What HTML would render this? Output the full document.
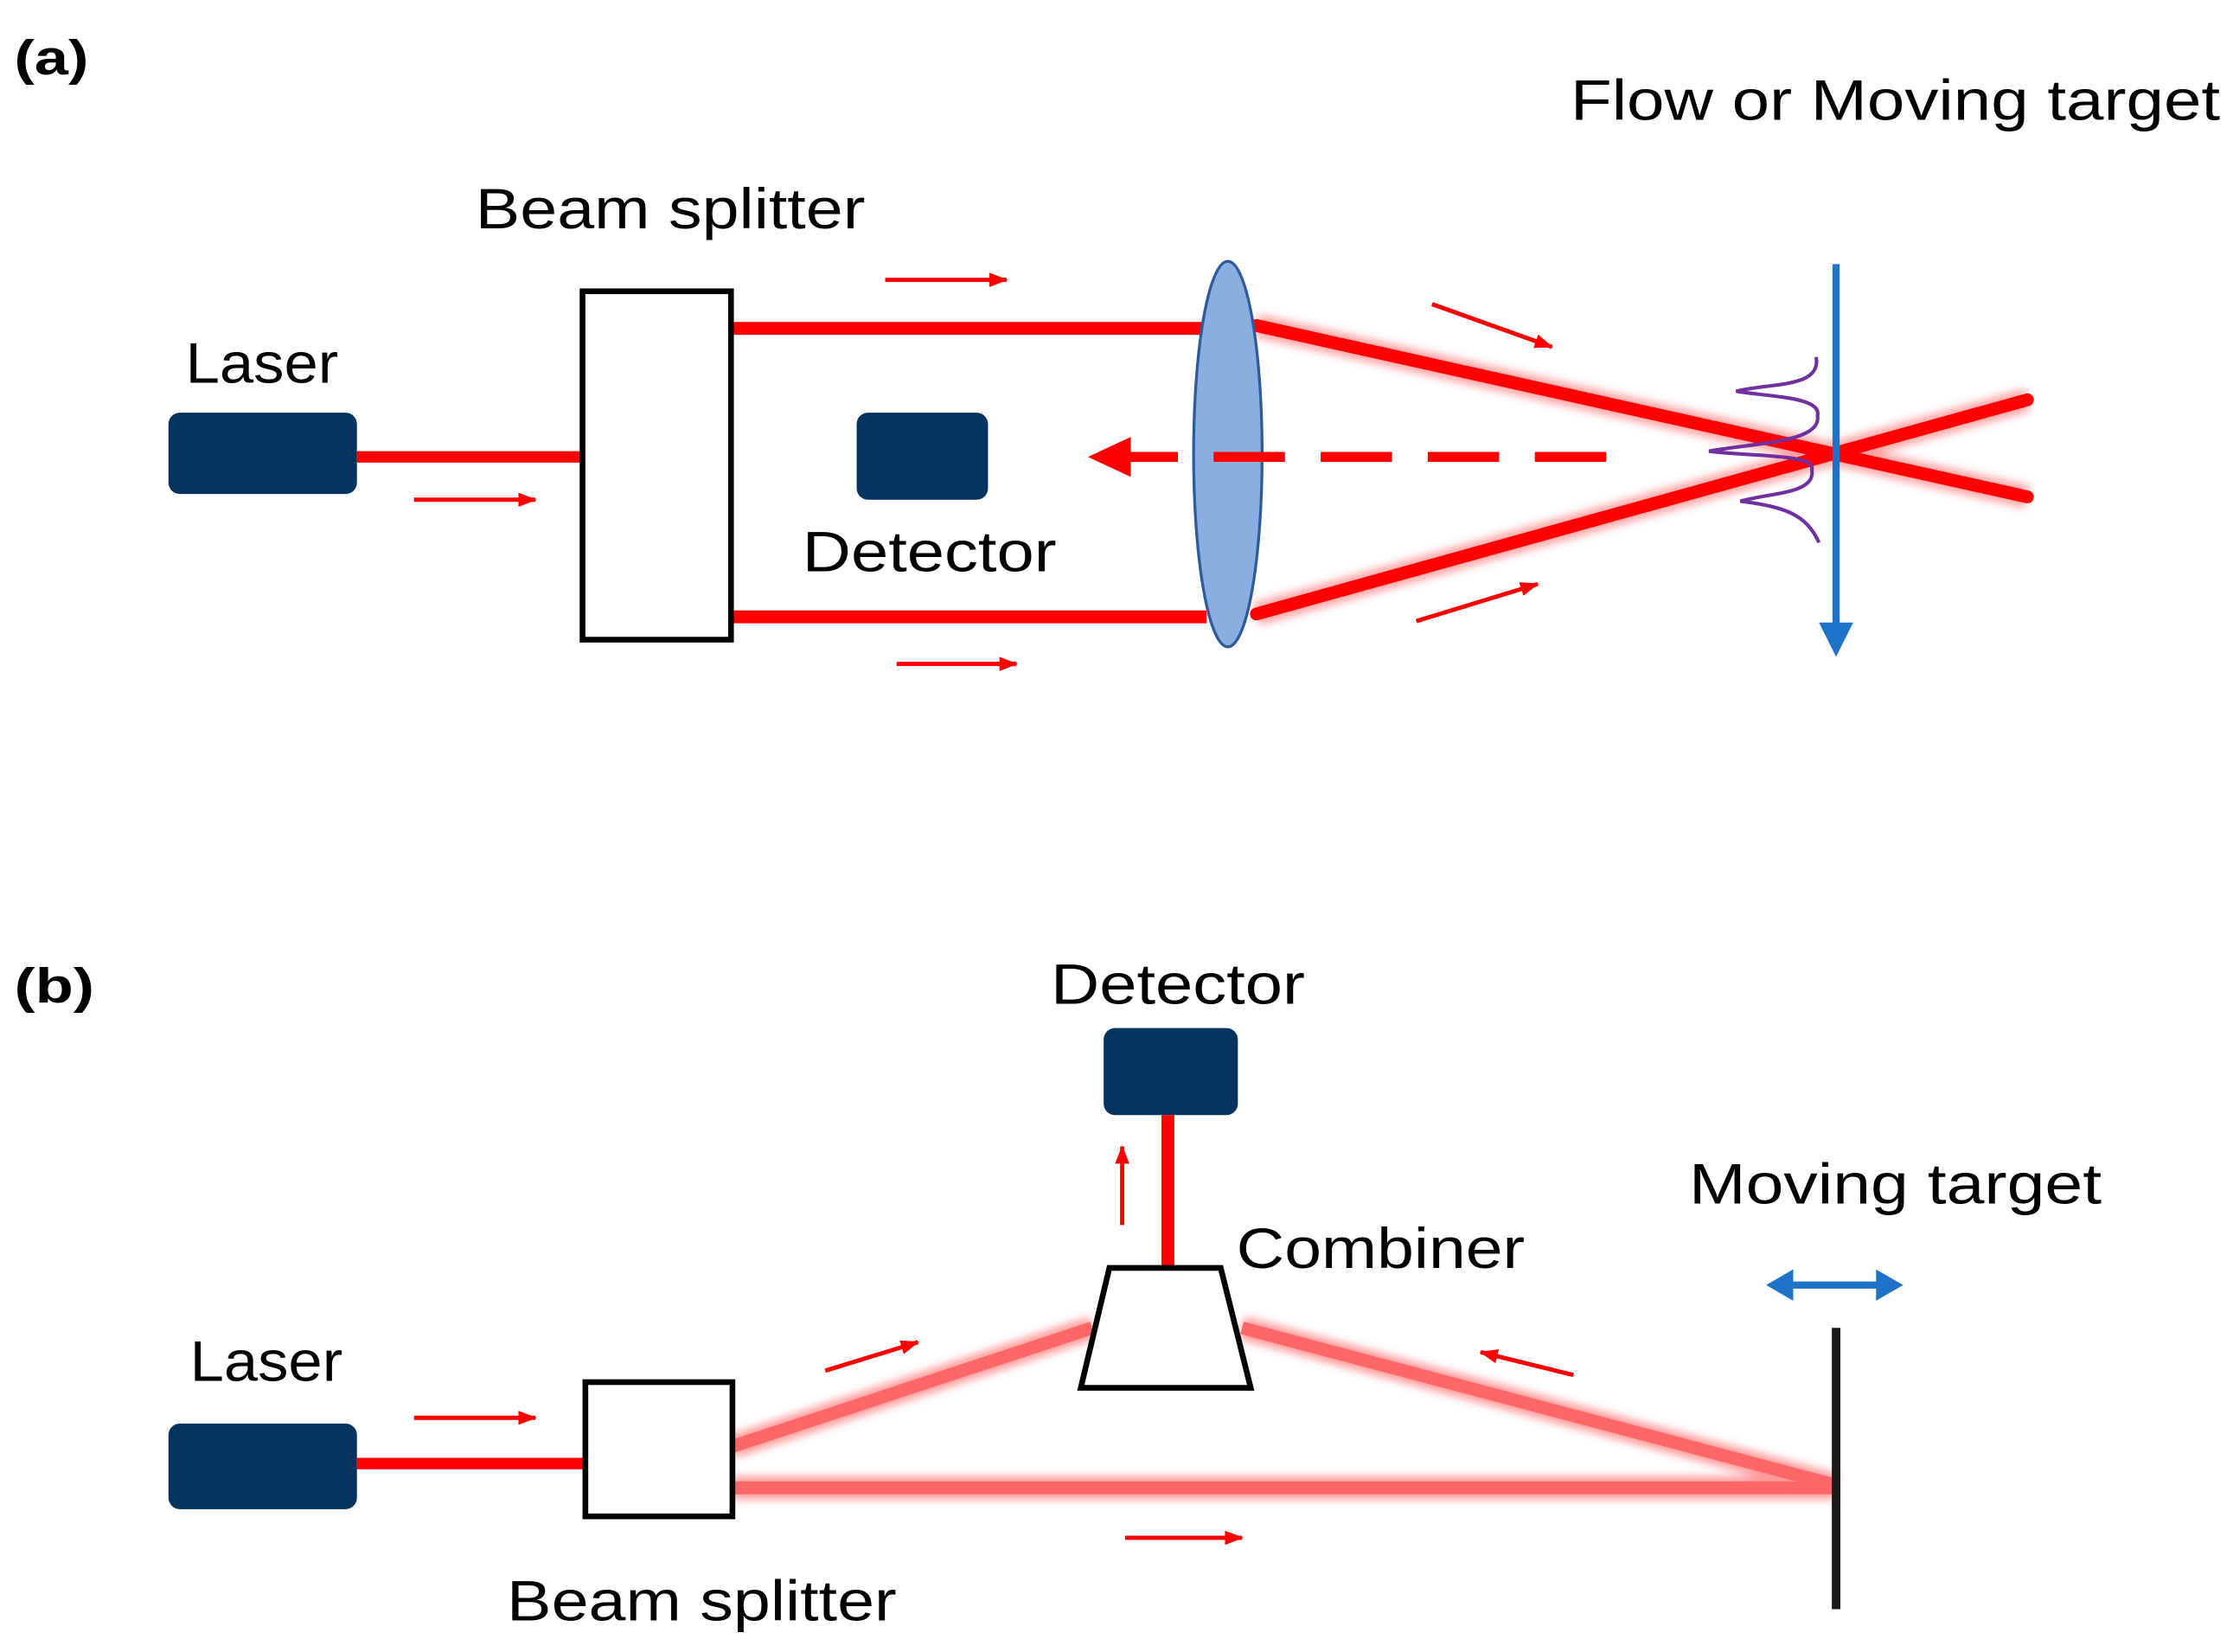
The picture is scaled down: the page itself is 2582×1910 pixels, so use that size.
<!DOCTYPE html>
<html><head><meta charset="utf-8"><style>html,body{margin:0;padding:0;background:#fff}svg{display:block}</style></head>
<body>
<svg width="2582" height="1910" viewBox="0 0 1564 1157" preserveAspectRatio="none" xmlns="http://www.w3.org/2000/svg" font-family="Liberation Sans, sans-serif">
<defs>
<filter id="g" x="-10%" y="-50%" width="120%" height="200%"><feGaussianBlur stdDeviation="3"/></filter>
<marker id="ar" markerWidth="13" markerHeight="10" refX="12" refY="5" orient="auto" markerUnits="userSpaceOnUse"><path d="M0,0 L13,5 L0,10 z" fill="#f00"/></marker>
</defs>
<rect width="1564" height="1157" fill="#fff"/>
<!-- (a) -->
<text x="10" y="52" font-size="34" font-weight="bold" textLength="52" lengthAdjust="spacingAndGlyphs">(a)</text>
<text x="1100" y="84" font-size="40" textLength="455" lengthAdjust="spacingAndGlyphs">Flow or Moving target</text>
<text x="333" y="160" font-size="40" textLength="273" lengthAdjust="spacingAndGlyphs">Beam splitter</text>
<text x="130" y="268" font-size="40" textLength="107" lengthAdjust="spacingAndGlyphs">Laser</text>
<text x="562" y="400" font-size="40" textLength="178" lengthAdjust="spacingAndGlyphs">Detector</text>
<rect x="118" y="289" width="132" height="57" rx="8" fill="#03335f"/>
<rect x="600" y="289" width="92" height="61" rx="8" fill="#03335f"/>
<line x1="250" y1="320" x2="408" y2="320" stroke="#f00" stroke-width="8"/>
<line x1="512" y1="230" x2="845" y2="230" stroke="#f00" stroke-width="9"/>
<line x1="512" y1="432" x2="845" y2="432" stroke="#f00" stroke-width="9"/>
<g filter="url(#g)" stroke="#f66" stroke-width="16" opacity="0.6">
<line x1="880" y1="228" x2="1420" y2="348"/><line x1="880" y1="430" x2="1420" y2="280"/>
</g>
<g stroke="#f00" stroke-width="9" stroke-linecap="round">
<line x1="880" y1="228" x2="1420" y2="348"/><line x1="880" y1="430" x2="1420" y2="280"/>
</g>
<rect x="408" y="204" width="104" height="244" fill="#fff" stroke="#000" stroke-width="4"/>
<ellipse cx="860" cy="318" rx="24" ry="135" fill="#8aaee0" stroke="#2e5c9a" stroke-width="2"/>
<line x1="1125" y1="320" x2="790" y2="320" stroke="#f00" stroke-width="7" stroke-dasharray="50,25"/>
<path d="M762,320 L792,306 L792,334 z" fill="#f00"/>
<line x1="1286" y1="185" x2="1286" y2="440" stroke="#1e73c8" stroke-width="5"/>
<path d="M1274,436 L1298,436 L1286,460 z" fill="#1e73c8"/>
<path d="M1272,250 C1276,272 1240,268 1216,274 C1240,278 1276,278 1273,291 C1276,310 1230,310 1197,316 C1230,320 1272,318 1269,329 C1272,346 1240,345 1219,351 C1250,355 1265,360 1274,380" fill="none" stroke="#7030a0" stroke-width="2.5"/>
<g stroke="#f00" stroke-width="3" marker-end="url(#ar)">
<line x1="290" y1="350" x2="375" y2="350"/>
<line x1="620" y1="196" x2="705" y2="196"/>
<line x1="628" y1="465" x2="712" y2="465"/>
<line x1="1003" y1="213" x2="1087" y2="243"/>
<line x1="992" y1="435" x2="1077" y2="409"/>
</g>
<!-- (b) -->
<text x="10" y="702" font-size="34" font-weight="bold" textLength="56" lengthAdjust="spacingAndGlyphs">(b)</text>
<text x="736" y="703" font-size="40" textLength="178" lengthAdjust="spacingAndGlyphs">Detector</text>
<text x="866" y="888" font-size="40" textLength="202" lengthAdjust="spacingAndGlyphs">Combiner</text>
<text x="1183" y="843" font-size="40" textLength="289" lengthAdjust="spacingAndGlyphs">Moving target</text>
<text x="133" y="967" font-size="40" textLength="107" lengthAdjust="spacingAndGlyphs">Laser</text>
<text x="355" y="1135" font-size="40" textLength="273" lengthAdjust="spacingAndGlyphs">Beam splitter</text>
<rect x="773" y="720" width="94" height="61" rx="8" fill="#03335f"/>
<rect x="118" y="997" width="132" height="60" rx="8" fill="#03335f"/>
<line x1="818" y1="781" x2="818" y2="888" stroke="#f00" stroke-width="9"/>
<line x1="250" y1="1025" x2="410" y2="1025" stroke="#f00" stroke-width="8"/>
<g filter="url(#g)" stroke="#f55" stroke-width="16" opacity="0.6">
<line x1="513" y1="1013" x2="765" y2="930"/><line x1="870" y1="930" x2="1285" y2="1040"/><line x1="513" y1="1042" x2="1285" y2="1042"/>
</g>
<g stroke="#f66" stroke-width="9">
<line x1="513" y1="1013" x2="765" y2="930"/><line x1="870" y1="930" x2="1285" y2="1040"/><line x1="513" y1="1042" x2="1285" y2="1042"/>
</g>
<rect x="410" y="968" width="103" height="94" fill="#fff" stroke="#000" stroke-width="4"/>
<path d="M777,888 L855,888 L876,972 L757,972 z" fill="#fff" stroke="#000" stroke-width="4"/>
<line x1="1286" y1="930" x2="1286" y2="1127" stroke="#1a1a1a" stroke-width="6"/>
<line x1="1250" y1="900" x2="1320" y2="900" stroke="#1e73c8" stroke-width="5"/>
<path d="M1237,900 L1256,889 L1256,911 z M1333,900 L1314,889 L1314,911 z" fill="#1e73c8"/>
<g stroke="#f00" stroke-width="3" marker-end="url(#ar)">
<line x1="290" y1="993" x2="375" y2="993"/>
<line x1="786" y1="858" x2="786" y2="803"/>
<line x1="578" y1="960" x2="643" y2="940"/>
<line x1="1102" y1="963" x2="1037" y2="947"/>
<line x1="788" y1="1077" x2="870" y2="1077"/>
</g>
</svg>
</body></html>
